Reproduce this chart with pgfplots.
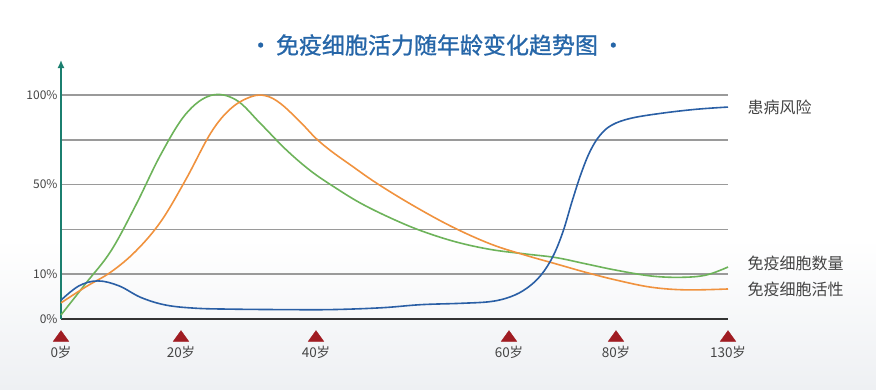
\documentclass[border=0pt]{standalone}
\usepackage{fontspec}
\setmainfont{Noto Sans CJK SC}
\newfontfamily\titlefont{Noto Sans CJK SC}[FakeBold=1]
\usepackage{pgfplots}
\pgfplotsset{compat=1.18}
\usetikzlibrary{arrows.meta}
\definecolor{cblue}{HTML}{2A5FA5}
\definecolor{cgreen}{HTML}{6DB35A}
\definecolor{corange}{HTML}{F0923E}
\definecolor{cteal}{HTML}{1B7F6F}
\definecolor{ctitle}{HTML}{2666A8}
\definecolor{cred}{HTML}{A01C22}
\definecolor{ctext}{HTML}{444444}
\definecolor{cgrid}{HTML}{9A9A9A}
\definecolor{caxis}{HTML}{333333}
\definecolor{cbg}{HTML}{EEF0F3}
\begin{document}
\begin{tikzpicture}[x=1pt,y=1pt]
\path[use as bounding box] (0,0) rectangle (876,389);
\shade[top color=white, bottom color=cbg] (0,0) rectangle (876,150);
\node[text=ctitle, font=\titlefont\fontsize{23}{25}\selectfont] at (437,344) {•\,免疫细胞活力随年龄变化趋势图\,•};
\begin{axis}[
  at={(61pt,70pt)}, anchor=origin,
  scale only axis, width=667pt, height=259pt,
  xmin=0, xmax=667, ymin=0, ymax=5.78,
  clip=false,
  axis lines=left,
  x axis line style={-, color=caxis, line width=2.5pt},
  y axis line style={-{Latex[length=8pt,width=7pt]}, color=cteal, line width=1.5pt},
  major tick length=0pt,
  ytick={0,1,2,3,4,5},
  yticklabels={0\%,10\%,,50\%,,100\%},
  ymajorgrids,
  major grid style={color=cgrid, line width=1.5pt},
  xtick={0,120,255,448,555,667},
  xticklabels={0岁,20岁,40岁,60岁,80岁,130岁},
  yticklabel style={font=\fontsize{12}{12}\selectfont, text=ctext},
  xticklabel style={font=\fontsize{13.5}{14}\selectfont, text=ctext, yshift=-24pt},
]
% 免疫细胞数量 (green)
\addplot[color=cgreen, line width=1.6pt, smooth, tension=0.6] coordinates {
(0,0.09) (25,0.80) (50,1.52) (75,2.55) (100,3.68) (125,4.58) (150,4.99) (175,4.89)
(200,4.35) (225,3.78) (250,3.30) (275,2.92) (300,2.58) (330,2.25) (360,1.97)
(395,1.72) (430,1.55) (465,1.45) (495,1.37) (525,1.23) (555,1.09) (590,0.96)
(620,0.93) (645,0.98) (667,1.16)};
% 免疫细胞活性 (orange)
\addplot[color=corange, line width=1.6pt, smooth, tension=0.6] coordinates {
(0,0.36) (25,0.72) (50,1.05) (75,1.52) (100,2.18) (125,3.12) (150,4.16) (170,4.70)
(190,4.96) (205,4.98) (220,4.80) (240,4.38) (255,4.03) (270,3.75) (290,3.43)
(315,3.04) (350,2.56) (390,2.07) (430,1.67) (465,1.42) (495,1.23) (525,1.04)
(555,0.87) (590,0.71) (625,0.65) (667,0.67)};
% 患病风险 (blue)
\addplot[color=cblue, line width=1.6pt, smooth, tension=0.6] coordinates {
(0,0.42) (18,0.74) (37,0.85) (58,0.74) (80,0.48) (105,0.31) (135,0.24) (170,0.22)
(220,0.21) (270,0.21) (320,0.25) (360,0.32) (400,0.35) (430,0.39) (450,0.50)
(466,0.69) (480,0.98) (492,1.40) (502,1.95) (511,2.62) (520,3.24) (529,3.74)
(539,4.10) (551,4.33) (570,4.48) (600,4.59) (635,4.68) (667,4.73)};
% triangles marking ages
\addplot[only marks, mark=triangle*, mark size=9pt,
  mark options={yscale=0.8, fill=cred, draw=cred}] coordinates {
(0,-0.42) (120,-0.42) (255,-0.42) (448,-0.42) (555,-0.42) (667,-0.42)};
\node[anchor=west, text=ctext, font=\fontsize{16}{16}\selectfont] at (axis cs:683,4.73) {患病风险};
\node[anchor=west, text=ctext, font=\fontsize{16}{16}\selectfont] at (axis cs:683,1.25) {免疫细胞数量};
\node[anchor=west, text=ctext, font=\fontsize{16}{16}\selectfont] at (axis cs:683,0.65) {免疫细胞活性};
\end{axis}
\end{tikzpicture}
\end{document}
